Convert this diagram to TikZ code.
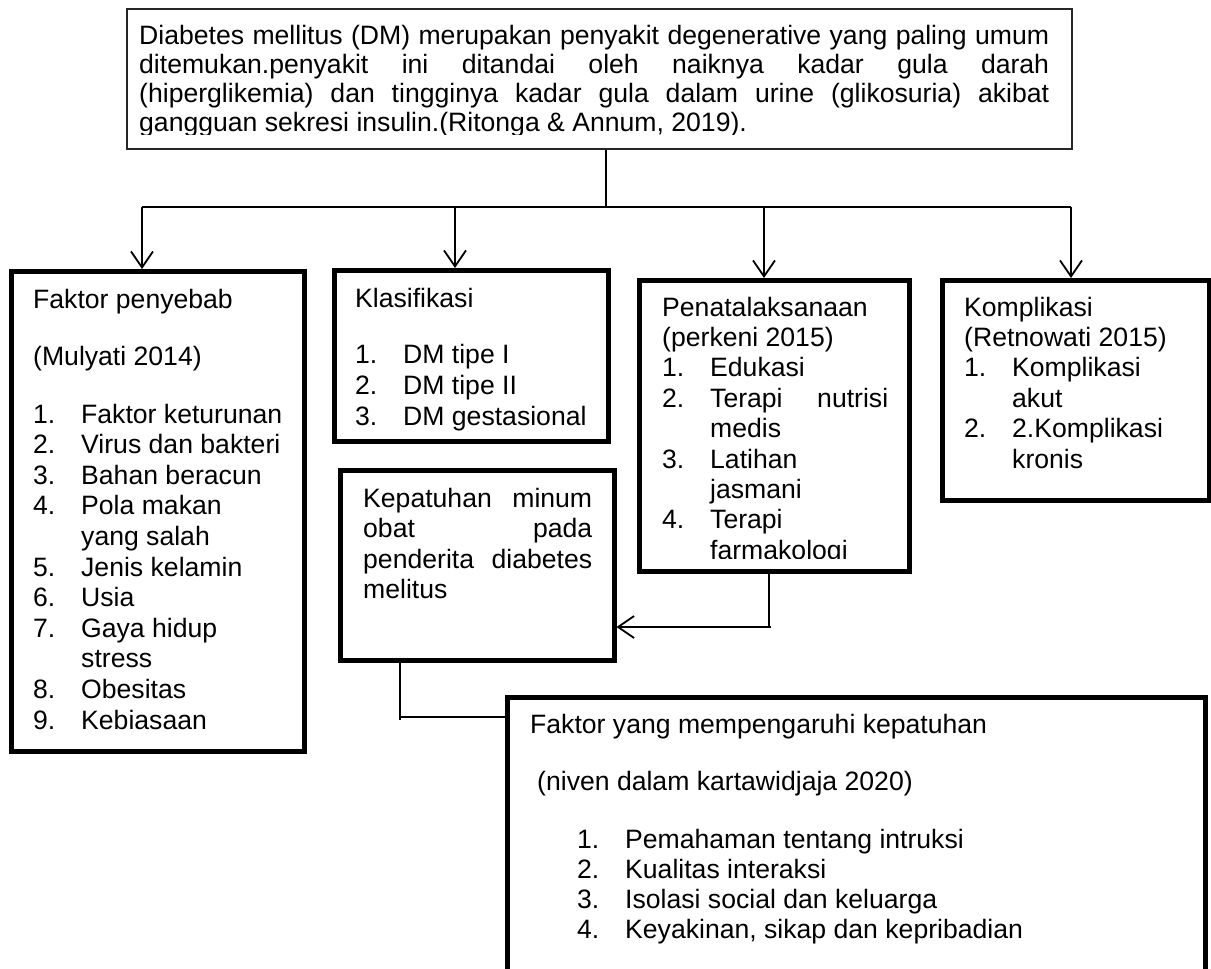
\documentclass[tikz,border=0pt]{standalone}
\usepackage{fontspec}
\setmainfont{Liberation Sans}
\usetikzlibrary{arrows.meta}
\newcommand\bfnt[1]{\fontsize{26.6pt}{#1}\selectfont}
\newcommand\itm[1]{\makebox[48pt][l]{#1}}
\newcommand\cont{\hspace*{48pt}}
\begin{document}
\begin{tikzpicture}[x=1pt,y=-1pt,
  thinbox/.style={draw=black!85, line width=1.6pt, rectangle, inner sep=0pt},
  thickbox/.style={draw=black, line width=5pt, rectangle, inner sep=0pt},
  txt/.style={inner sep=0pt, anchor=base west, font=\fontsize{26.6pt}{30.5pt}\selectfont},
  conn/.style={draw=black, line width=1.8pt},
  arr/.style={conn, -{Straight Barb[length=16pt,width=22pt]}}]
\useasboundingbox (0,0) rectangle (1211,969);
\clip (0,0) rectangle (1211,969);

% boxes
\node[thinbox, minimum width=945pt, minimum height=140pt] (top) at (599.5,79) {};
\node[thickbox, minimum width=293pt, minimum height=480pt] (faktor) at (158,511.5) {};
\node[thickbox, minimum width=273.5pt, minimum height=171pt] (klas) at (471.25,356) {};
\node[thickbox, minimum width=273.5pt, minimum height=190pt] (kepat) at (477.25,565.5) {};
\node[thickbox, minimum width=270.5pt, minimum height=290.5pt] (penata) at (774.25,425.75) {};
\node[thickbox, minimum width=266.5pt, minimum height=219.5pt] (kompl) at (1075.75,390.25) {};
\node[thickbox, minimum width=698pt, minimum height=302.5pt] (fym) at (856,848.75) {};

% texts
\begin{scope}
\clip (128,10) rectangle (1071,134);
\node[txt] (toptxt) at (139,44) {\parbox[t]{910pt}{\bfnt{29.3pt}%
\makebox[910pt][s]{Diabetes mellitus (DM) merupakan penyakit degenerative yang paling umum}\\
\makebox[910pt][s]{ditemukan.penyakit ini ditandai oleh naiknya kadar gula darah}\\
\makebox[910pt][s]{(hiperglikemia) dan tingginya kadar gula dalam urine (glikosuria) akibat}\\
gangguan sekresi insulin.(Ritonga \& Annum, 2019).}};
\end{scope}

\node[txt] (ftxt) at (33,308) {\parbox[t]{260pt}{\bfnt{30.6pt}%
Faktor penyebab\\[26.4pt]
(Mulyati 2014)\\[27.4pt]
\itm{1.}Faktor keturunan\\
\itm{2.}Virus dan bakteri\\
\itm{3.}Bahan beracun\\
\itm{4.}Pola makan\\
\cont yang salah\\
\itm{5.}Jenis kelamin\\
\itm{6.}Usia\\
\itm{7.}Gaya hidup\\
\cont stress\\
\itm{8.}Obesitas\\
\itm{9.}Kebiasaan}};

\node[txt] (ktxt) at (355,307) {\parbox[t]{240pt}{\bfnt{31pt}%
Klasifikasi\\[25pt]
\itm{1.}DM tipe I\\
\itm{2.}DM tipe II\\
\itm{3.}DM gestasional}};

\node[txt] (kptxt) at (363,507) {\parbox[t]{229pt}{\bfnt{30.6pt}%
\makebox[229pt][s]{Kepatuhan minum}\\
\makebox[229pt][s]{obat pada}\\
\makebox[229pt][s]{penderita diabetes}\\
melitus}};

\begin{scope}
\clip (640,283) rectangle (908,558);
\node[txt] (ptxt) at (662,316) {\parbox[t]{240pt}{\bfnt{30.4pt}%
Penatalaksanaan\\
(perkeni 2015)\\
\itm{1.}Edukasi\\
\itm{2.}\makebox[178pt][s]{Terapi nutrisi}\\
\cont medis\\
\itm{3.}Latihan\\
\cont jasmani\\
\itm{4.}Terapi\\
\cont farmakologi}};
\end{scope}

\node[txt] (kmtxt) at (964,316) {\parbox[t]{240pt}{\bfnt{30.4pt}%
Komplikasi\\
(Retnowati 2015)\\
\itm{1.}Komplikasi\\
\cont akut\\
\itm{2.}2.Komplikasi\\
\cont kronis}};

\node[txt] (fymtxt) at (530,733) {\parbox[t]{640pt}{\bfnt{30pt}%
Faktor yang mempengaruhi kepatuhan\\[27pt]
\hspace*{7pt}(niven dalam kartawidjaja 2020)\\[28pt]
\hspace*{47pt}\itm{1.}Pemahaman tentang intruksi\\
\hspace*{47pt}\itm{2.}Kualitas interaksi\\
\hspace*{47pt}\itm{3.}Isolasi social dan keluarga\\
\hspace*{47pt}\itm{4.}Keyakinan, sikap dan kepribadian}};

% connectors
\coordinate (hub) at (606,207);
\coordinate (d1) at (142,207);
\coordinate (d2) at (455,207);
\coordinate (d3) at (764,207);
\coordinate (d4) at (1071,207);
\draw[conn] (top.south -| hub) -- (hub);
\draw[conn] (d1) -- (d4);
\draw[arr] (d1) -- (d1 |- faktor.north);
\draw[arr] (d2) -- (d2 |- klas.north);
\draw[arr] (d3) -- (d3 |- penata.north);
\draw[arr] (d4) -- (d4 |- kompl.north);

\coordinate (pk) at (769,627);
\coordinate (pkr) at (771,627);
\draw[conn] (penata.south -| pk) -- (pk);
\draw[arr] (pkr) -- (kepat.east |- pk);

\coordinate (kb) at (400,717);
\coordinate (kbl) at (400,720);
\draw[conn] (kepat.south -| kb) -- (kbl);
\draw[conn] (kb) -- (fym.west |- kb);
\end{tikzpicture}
\end{document}
